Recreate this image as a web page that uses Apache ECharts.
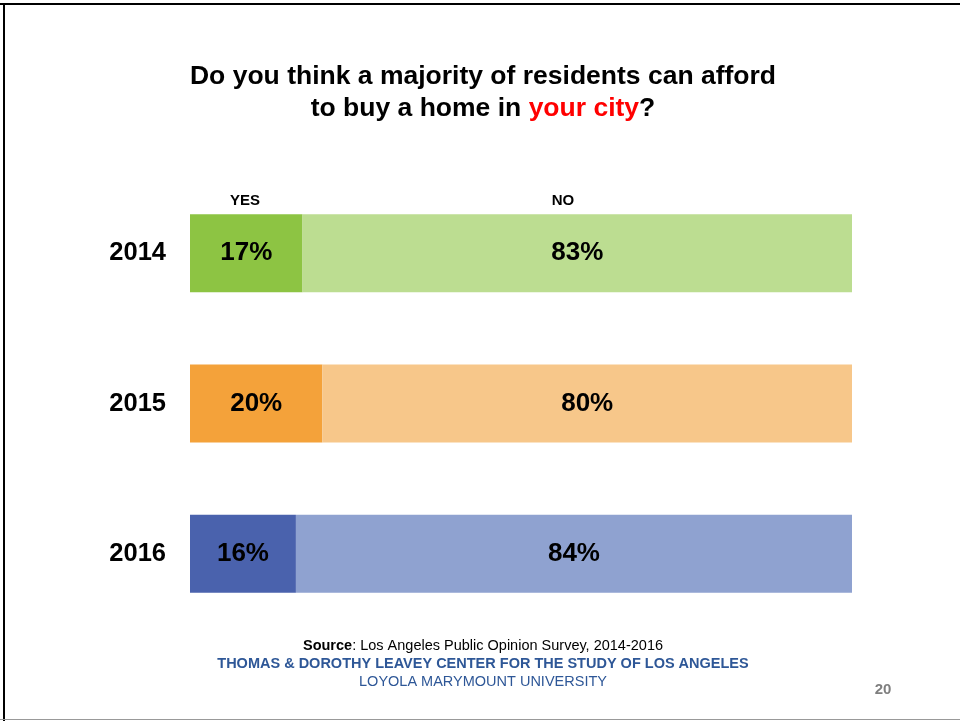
<!DOCTYPE html>
<html>
<head>
<meta charset="utf-8">
<script src="https://cdn.jsdelivr.net/npm/echarts@6/dist/echarts.min.js"></script>
<style>
  html, body { margin: 0; padding: 0; background: #fff; }
  #main { width: 960px; height: 721px; }
</style>
</head>
<body>
<div id="main"></div>
<script>
var years = ['2014', '2015', '2016'];
var yesValues = [17, 20, 16];
var noValues = [83, 80, 84];
var yesColors = ['#8DC443', '#F4A23A', '#4A62AD'];
var noColors = ['#BCDD91', '#F7C78A', '#8FA2D0'];

var myChart = echarts.init(document.getElementById('main'));

function coloured(values, colors) {
  return values.map(function (v, i) {
    return { value: v, itemStyle: { color: colors[i] } };
  });
}

var FONT = '"Liberation Sans", Arial, sans-serif';

var labelStyle = {
  show: true,
  position: 'inside',
  formatter: '{c}%',
  color: '#000',
  fontSize: 26,
  fontWeight: 'bold',
  fontFamily: FONT
};

myChart.setOption({
  animation: false,
  backgroundColor: '#fff',
  title: {
    text: 'Do you think a majority of residents can afford\nto buy a home in {r|your city}?',
    left: 483,
    top: 61,
    padding: 0,
    textAlign: 'center',
    textStyle: {
      color: '#000',
      fontSize: 26.5,
      fontWeight: 'bold',
      lineHeight: 32,
      fontFamily: FONT,
      rich: {
        r: { color: '#FF0000', fontSize: 26.5, fontWeight: 'bold', lineHeight: 32, fontFamily: FONT }
      }
    }
  },
  grid: { left: 190, right: 108, top: 178, height: 451 },
  xAxis: { type: 'value', min: 0, max: 100, show: false },
  yAxis: {
    type: 'category',
    data: years,
    inverse: true,
    axisLine: { show: false },
    axisTick: { show: false },
    axisLabel: {
      margin: 24,
      color: '#000',
      fontSize: 25.5,
      fontWeight: 'bold',
      fontFamily: FONT
    }
  },
  series: [
    { name: 'YES', type: 'bar', stack: 'all', barWidth: 78, data: coloured(yesValues, yesColors), label: labelStyle },
    { name: 'NO', type: 'bar', stack: 'all', barWidth: 78, data: coloured(noValues, noColors), label: labelStyle }
  ],
  graphic: [
    { type: 'rect', shape: { x: 0, y: 3, width: 960, height: 2 }, style: { fill: '#000' } },
    { type: 'rect', shape: { x: 3, y: 3, width: 2, height: 718 }, style: { fill: '#000' } },
    { type: 'rect', shape: { x: 0, y: 719, width: 960, height: 1 }, style: { fill: '#999' } },
    { type: 'text', x: 245, y: 201, style: { text: 'YES', fill: '#000', font: 'bold 15px ' + FONT, textAlign: 'center', textVerticalAlign: 'middle' } },
    { type: 'text', x: 563, y: 201, style: { text: 'NO', fill: '#000', font: 'bold 15px ' + FONT, textAlign: 'center', textVerticalAlign: 'middle' } },
    { type: 'text', x: 483, y: 646, style: { text: '{b|Source}: Los Angeles Public Opinion Survey, 2014-2016', fill: '#000', font: '14.5px ' + FONT, textAlign: 'center', textVerticalAlign: 'middle',
      rich: { b: { fontWeight: 'bold', fontSize: 14.5, fontFamily: FONT, fill: '#000' } } } },
    { type: 'text', x: 483, y: 664, style: { text: 'THOMAS & DOROTHY LEAVEY CENTER FOR THE STUDY OF LOS ANGELES', fill: '#2E5797', font: 'bold 14.5px ' + FONT, textAlign: 'center', textVerticalAlign: 'middle' } },
    { type: 'text', x: 483, y: 682, style: { text: 'LOYOLA MARYMOUNT UNIVERSITY', fill: '#2E5797', font: '14.5px ' + FONT, textAlign: 'center', textVerticalAlign: 'middle' } },
    { type: 'text', x: 883, y: 690, style: { text: '20', fill: '#7F7F7F', font: 'bold 15px ' + FONT, textAlign: 'center', textVerticalAlign: 'middle' } }
  ]
});
</script>
</body>
</html>
